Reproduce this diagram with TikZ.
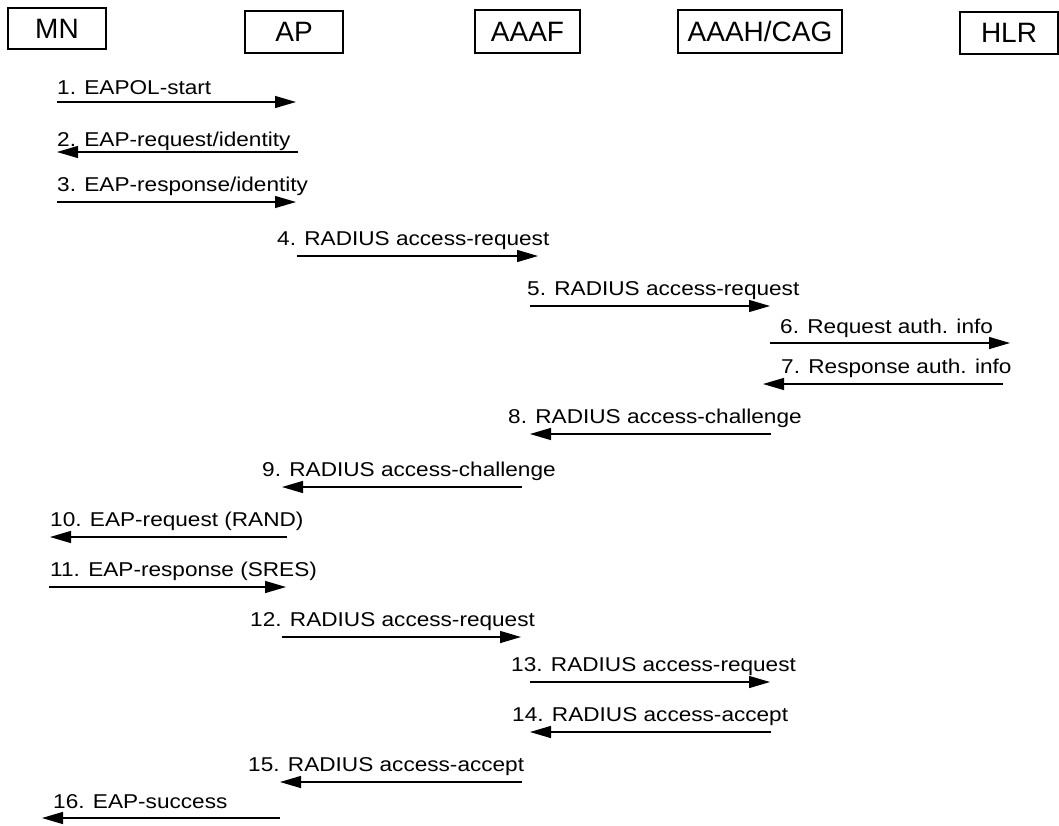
\documentclass[tikz,border=0pt]{standalone}
\usepackage{fontspec}
\setmainfont{Liberation Sans}
\newfontfamily\msgfont{Liberation Sans}[FakeStretch=1.13]
\usetikzlibrary{arrows.meta}
\begin{document}
\begin{tikzpicture}[x=1pt,y=-1pt,
  entity/.style={draw, line width=1.1pt, inner sep=0pt, font=\fontsize{28}{32}\selectfont},
  lbl/.style={anchor=base west, inner sep=0pt, font=\msgfont\fontsize{20}{24}\selectfont},
  msg/.style={line width=1.3pt, -{Triangle[length=21pt,width=12pt]}}
]
\useasboundingbox (0,0) rectangle (1059,825);

% participants
\node[entity, minimum width=98pt, minimum height=41pt] (mn)   at (57,28.5)  {MN};
\node[entity, minimum width=98pt, minimum height=42pt] (ap)   at (294,32)   {AP};
\node[entity, minimum width=105pt, minimum height=43pt] (aaaf) at (527.5,31.5) {AAAF};
\node[entity, minimum width=164pt, minimum height=43pt] (aaah) at (760,31.5) {AAAH/CAG};
\node[entity, minimum width=98pt, minimum height=42pt] (hlr)  at (1009,33)  {HLR};

% message end points
\coordinate (s1) at (57,102);   \coordinate (e1) at (296,102);
\coordinate (s2) at (298,152);  \coordinate (e2) at (57,152);
\coordinate (s3) at (57,202);   \coordinate (e3) at (296,202);
\coordinate (s4) at (297,256);  \coordinate (e4) at (538,256);
\coordinate (s5) at (530,306);  \coordinate (e5) at (770,306);
\coordinate (s6) at (770,343);  \coordinate (e6) at (1010,343);
\coordinate (s7) at (1003,384); \coordinate (e7) at (763,384);
\coordinate (s8) at (771,434);  \coordinate (e8) at (530,434);
\coordinate (s9) at (522,487);  \coordinate (e9) at (282,487);
\coordinate (s10) at (287,537); \coordinate (e10) at (50,537);
\coordinate (s11) at (49,587);  \coordinate (e11) at (286,587);
\coordinate (s12) at (282,637); \coordinate (e12) at (521,637);
\coordinate (s13) at (530,682); \coordinate (e13) at (770,682);
\coordinate (s14) at (771,732); \coordinate (e14) at (530,732);
\coordinate (s15) at (522,782); \coordinate (e15) at (280,782);
\coordinate (s16) at (280,818); \coordinate (e16) at (42,818);

% messages
\foreach \i in {1,...,16} { \draw[msg] (s\i) -- (e\i); }

% message labels
\node[lbl] (l1)  at (57,94)   {1. EAPOL-start};
\node[lbl] (l2)  at (57,146)  {2. EAP-request/identity};
\node[lbl] (l3)  at (57,191)  {3. EAP-response/identity};
\node[lbl] (l4)  at (277,245) {4. RADIUS access-request};
\node[lbl] (l5)  at (527,295) {5. RADIUS access-request};
\node[lbl] (l6)  at (780,333) {6. Request auth. info};
\node[lbl] (l7)  at (781,373) {7. Response auth. info};
\node[lbl] (l8)  at (508,423) {8. RADIUS access-challenge};
\node[lbl] (l9)  at (262,476) {9. RADIUS access-challenge};
\node[lbl] (l10) at (50,526)  {10. EAP-request (RAND)};
\node[lbl] (l11) at (50,576)  {11. EAP-response (SRES)};
\node[lbl] (l12) at (250,626) {12. RADIUS access-request};
\node[lbl] (l13) at (511,671) {13. RADIUS access-request};
\node[lbl] (l14) at (512,721) {14. RADIUS access-accept};
\node[lbl] (l15) at (248,771) {15. RADIUS access-accept};
\node[lbl] (l16) at (53,808)  {16. EAP-success};
\end{tikzpicture}
\end{document}
